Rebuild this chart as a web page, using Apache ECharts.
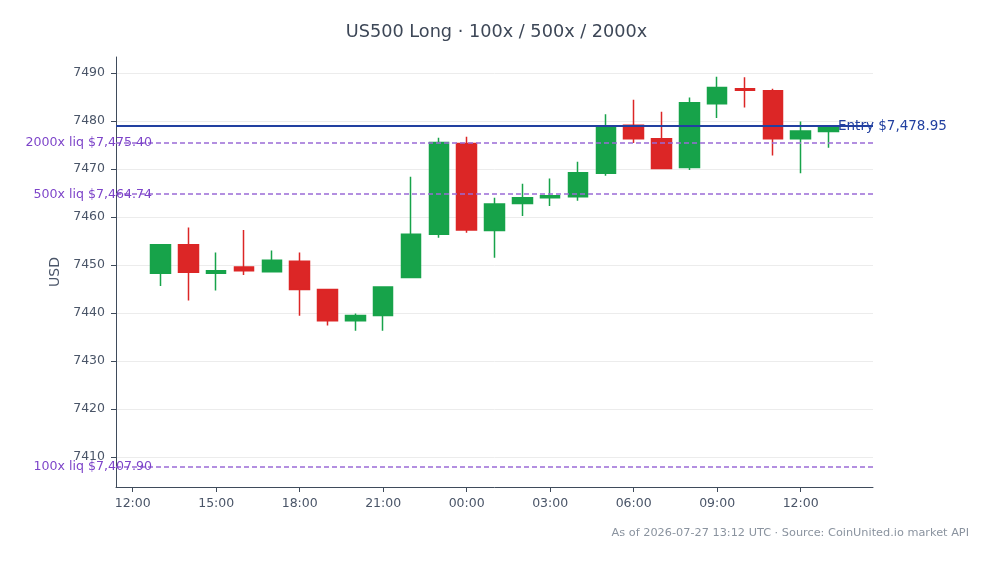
<!DOCTYPE html>
<html>
<head>
<meta charset="utf-8">
<script src="https://cdn.jsdelivr.net/npm/echarts@6/dist/echarts.min.js"></script>
<style>
html,body{margin:0;padding:0;background:#fff;}
#chart{width:993px;height:564px;}
</style>
</head>
<body>
<div id="chart"></div>
<script>
// Hours since 2026-07-26 12:00 UTC
const hours = [1,2,3,4,5,6,7,8,9,10,11,12,13,14,15,16,17,18,19,20,21,22,23,24,25];
const opens  = [7448.3,7454.2,7448.3,7449.6,7448.6,7450.8,7444.9,7438.4,7439.5,7447.4,7456.4,7475.3,7457.2,7462.8,7464.0,7464.2,7469.1,7479.1,7476.3,7470.3,7483.6,7486.7,7486.3,7476.3,7477.8];
const closes = [7454.2,7448.5,7448.8,7448.8,7451.0,7444.9,7438.4,7439.5,7445.4,7456.4,7475.5,7457.3,7462.7,7464.0,7464.4,7469.2,7478.8,7476.3,7470.1,7483.8,7487.0,7486.4,7476.3,7477.9,7478.6];
const lows   = [7445.6,7442.6,7444.7,7447.9,7448.6,7439.4,7437.4,7436.3,7436.3,7447.4,7455.7,7456.7,7451.5,7460.2,7462.3,7463.4,7468.6,7475.4,7470.0,7469.8,7480.6,7482.8,7472.8,7469.1,7474.4];
const highs  = [7454.2,7457.8,7452.6,7457.3,7453.0,7452.6,7445.0,7439.9,7445.4,7468.4,7476.5,7476.7,7464.0,7466.9,7468.0,7471.5,7481.4,7484.4,7481.9,7484.9,7489.2,7489.1,7486.7,7479.9,7479.0];

const entryPrice = 7478.95;
const liqLevels = [7475.40, 7464.74, 7407.90];
const liqNames = ['2000x liq $7,475.40', '500x liq $7,464.74', '100x liq $7,407.90'];
const entryLabel = 'Entry $7,478.95';

const xTicks = [0,3,6,9,12,15,18,21,24];
const yTicks = [7410,7420,7430,7440,7450,7460,7470,7480,7490];

const titleText = 'US500 Long · 100x / 500x / 2000x';
const footerText = 'As of 2026-07-27 13:12 UTC · Source: CoinUnited.io market API';

const candleData = hours.map((h, i) => [h, opens[i], closes[i], lows[i], highs[i]]);

const FONT = 'DejaVu Sans';
const AXIS_COLOR = '#3f4b5b';
const LABEL_COLOR = '#4a5568';
const PURPLE_LINE = '#9a6bd6';
const PURPLE_TEXT = '#7d44c9';
const BLUE = '#2240a0';

const markData = [
  {
    yAxis: entryPrice,
    lineStyle: {color: BLUE, width: 2, type: 'solid'},
    label: {show: true, position: 'end', distance: -35, formatter: entryLabel,
            color: BLUE, fontSize: 13.5, fontFamily: FONT}
  }
].concat(liqLevels.map((v, i) => ({
    yAxis: v,
    lineStyle: {color: PURPLE_LINE, width: 1.5, type: [5, 3]},
    label: {show: true, position: 'start', distance: -36, formatter: liqNames[i],
            color: PURPLE_TEXT, fontSize: 12.6, fontFamily: FONT}
})));

const chart = echarts.init(document.getElementById('chart'), null, {renderer: 'canvas'});
chart.setOption({
  animation: false,
  backgroundColor: '#ffffff',
  textStyle: {fontFamily: FONT},
  title: {
    text: titleText,
    left: 'center',
    top: 18,
    textStyle: {fontFamily: FONT, fontSize: 17.7, fontWeight: 'normal', color: '#3d4757'}
  },
  graphic: [{
    type: 'text',
    right: 24,
    top: 528,
    style: {text: footerText, fontFamily: FONT, fontSize: 11.3, fill: '#8a939f'}
  }],
  grid: {left: 116, right: 120, top: 57, bottom: 77, containLabel: false},
  xAxis: {
    type: 'value',
    min: -0.6,
    max: 26.6,
    axisLine: {show: true, onZero: false, lineStyle: {color: AXIS_COLOR, width: 1}},
    axisTick: {show: true, length: 5, lineStyle: {color: AXIS_COLOR}, customValues: xTicks},
    axisLabel: {
      customValues: xTicks,
      color: LABEL_COLOR, fontSize: 12.5, fontFamily: FONT, margin: 10,
      formatter: v => {
        const h = ((12 + Math.round(v)) % 24 + 24) % 24;
        return (h < 10 ? '0' : '') + h + ':00';
      }
    },
    splitLine: {show: false}
  },
  yAxis: {
    type: 'value',
    min: 7403.75,
    max: 7493.33,
    name: 'USD',
    nameLocation: 'middle',
    nameGap: 54,
    nameTextStyle: {fontFamily: FONT, fontSize: 14, color: LABEL_COLOR},
    axisLine: {show: true, onZero: false, lineStyle: {color: AXIS_COLOR, width: 1}},
    axisTick: {show: true, length: 5, lineStyle: {color: AXIS_COLOR}, customValues: yTicks},
    axisLabel: {customValues: yTicks, color: LABEL_COLOR, fontSize: 12.5, fontFamily: FONT, margin: 11,
                formatter: v => String(Math.round(v))},
    splitLine: {show: true, lineStyle: {color: '#ececec', width: 1}}
  },
  series: [{
    type: 'candlestick',
    data: candleData,
    encode: {x: 0, y: [1, 2, 3, 4]},
    barWidth: 20,
    itemStyle: {
      color: '#17a34a', color0: '#dc2626',
      borderColor: '#17a34a', borderColor0: '#dc2626',
      borderWidth: 1.5
    },
    markLine: {
      silent: true,
      symbol: ['none', 'none'],
      animation: false,
      data: markData
    }
  }]
});
</script>
</body>
</html>
